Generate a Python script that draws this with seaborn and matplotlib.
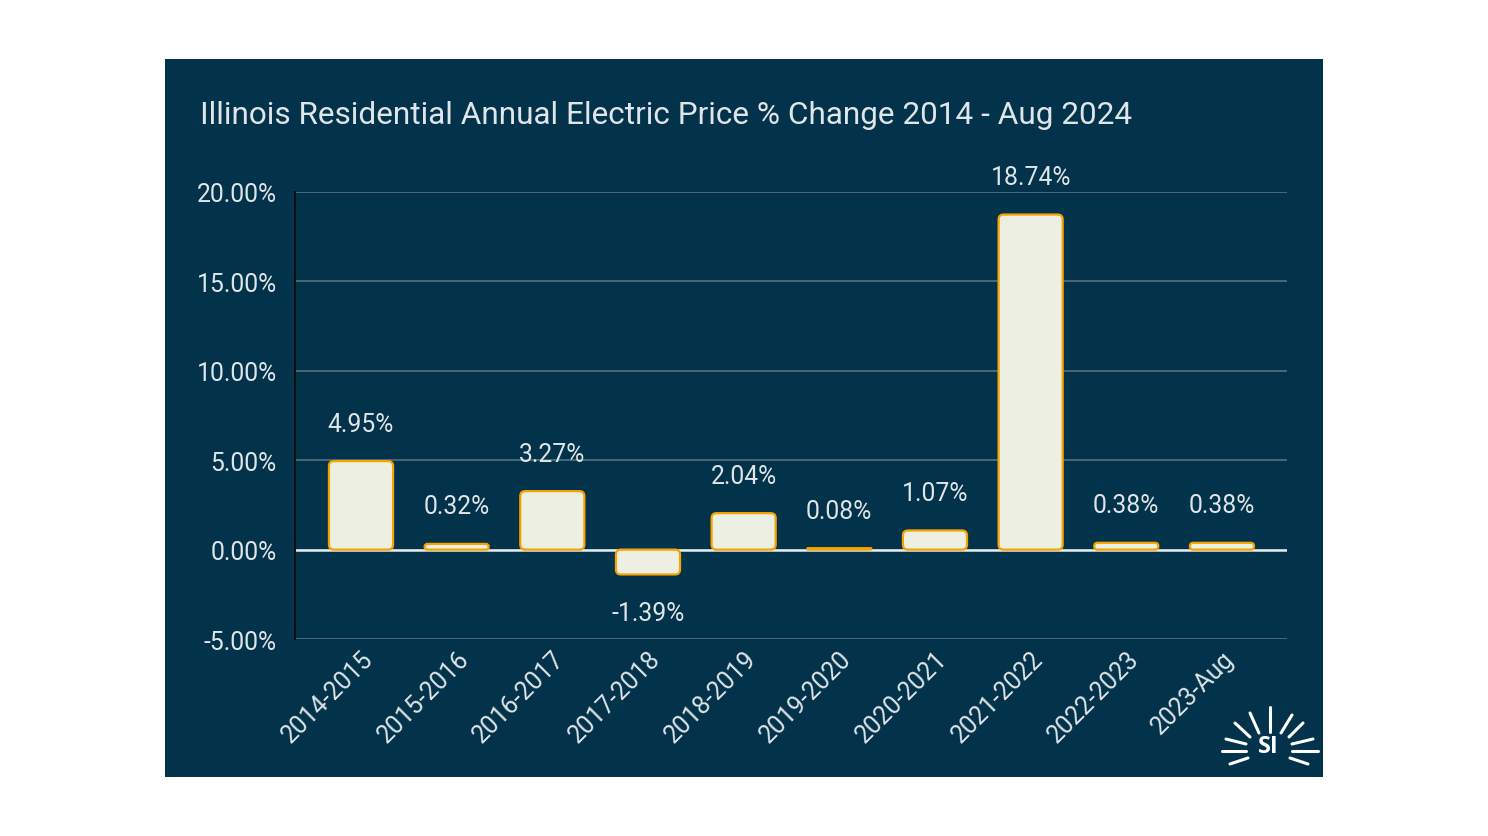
import matplotlib
matplotlib.use("Agg")
import matplotlib.pyplot as plt
import seaborn as sns
import pandas as pd
from matplotlib.patches import Rectangle, FancyBboxPatch
from matplotlib.lines import Line2D
from matplotlib.ticker import FuncFormatter, MultipleLocator

categories = ["2014-2015", "2015-2016", "2016-2017", "2017-2018", "2018-2019",
              "2019-2020", "2020-2021", "2021-2022", "2022-2023", "2023-Aug"]
pct_change = [4.95, 0.32, 3.27, -1.39, 2.04, 0.08, 1.07, 18.74, 0.38, 0.38]
title = "Illinois Residential Annual Electric Price % Change 2014 - Aug 2024"

PANEL = "#03334a"
BAR = "#eeefe3"
EDGE = "#f5a300"
TXT = "#dfe5e8"
GRID = "#4d6877"

sns.set_theme(style="white")
plt.rcParams["font.family"] = ["Roboto", "DejaVu Sans"]

W, H = 1488, 837
fig = plt.figure(figsize=(W / 100, H / 100), dpi=100)
fig.patch.set_facecolor("white")
fig.patches.append(Rectangle((165 / W, 1 - 778 / H), (1323 - 165) / W, (778 - 60) / H,
                             transform=fig.transFigure, facecolor=PANEL, edgecolor="none", zorder=-10))

ax = fig.add_axes([295 / W, 1 - 640 / H, (1287 - 295) / W, (640 - 193) / H])
ax.set_zorder(2)
ax.set_facecolor("none")

df = pd.DataFrame({"period": categories, "change": pct_change})
sns.barplot(data=df, x="period", y="change", ax=ax, color=BAR, width=0.67,
            saturation=1, edgecolor=EDGE, linewidth=1.6, zorder=3)

ax.set_xlim(-0.69, 9.68)
ax.set_ylim(-5, 20)

# replace rectangles by rounded ones
fig.canvas.draw()
bbox = ax.get_window_extent()
xpp = (ax.get_xlim()[1] - ax.get_xlim()[0]) / bbox.width
ypp = (ax.get_ylim()[1] - ax.get_ylim()[0]) / bbox.height
aspect = ypp / xpp
for p in list(ax.patches):
    x, y, w, h = p.get_x(), p.get_y(), p.get_width(), p.get_height()
    if h < 0:
        y, h = y + h, -h
    r = min(5 * xpp, (h / aspect) / 2.0, w / 2)
    fb = FancyBboxPatch((x, y), w, h, boxstyle=f"round,pad=0,rounding_size={r}",
                        mutation_aspect=aspect, facecolor=BAR, edgecolor=EDGE,
                        linewidth=1.6, zorder=3)
    p.remove()
    ax.add_patch(fb)

ax.yaxis.set_major_locator(MultipleLocator(5))
ax.yaxis.set_major_formatter(FuncFormatter(lambda v, _: f"{v:.2f}%"))
ax.grid(axis="y", color=GRID, linewidth=1.4, zorder=0)
ax.grid(axis="x", visible=False)
ax.axhline(0, color="#e6ecef", linewidth=1.8, zorder=2)

for s in ["top", "right", "bottom"]:
    ax.spines[s].set_visible(False)
ax.spines["left"].set_color("#0b0f12")
ax.spines["left"].set_linewidth(1.5)

ax.tick_params(axis="y", colors=TXT, labelsize=17.8, length=0, pad=13)
ax.tick_params(axis="x", colors=TXT, labelsize=17.8, length=0, pad=5)
for lab in ax.get_xticklabels():
    lab.set_rotation(45)
    lab.set_ha("right")
    lab.set_rotation_mode("anchor")
ax.set_xlabel("")
ax.set_ylabel("")

for i, v in enumerate(pct_change):
    off = 27 if v >= 0 else -28
    ax.annotate(f"{v:.2f}%", (i, v), xytext=(0, off), textcoords="offset points",
                ha="center", va="center", color=TXT, fontsize=17.8, zorder=5)

fig.text(200 / W, 1 - 116 / H, title, color=TXT, fontsize=22.7, ha="left", va="center")

# logo
cx, cy = 1268, 747
fig.text(cx / W, 1 - cy / H, "SI", color="white", fontsize=17, fontweight="bold",
         ha="center", va="center", family=["Open Sans", "DejaVu Sans"])
rays = [((1270, 733), (1270, 708)), ((1259, 734), (1250, 714)), ((1281, 734), (1292, 716)),
        ((1250, 738), (1235, 724)), ((1289, 738), (1303, 724)),
        ((1246, 745), (1226, 740)), ((1292, 745), (1313, 740)),
        ((1246, 752), (1222, 752)), ((1292, 752), (1318, 752)),
        ((1248, 759), (1230, 765)), ((1290, 759), (1308, 765))]
for (x0, y0), (x1, y1) in rays:
    fig.add_artist(Line2D([x0 / W, x1 / W], [1 - y0 / H, 1 - y1 / H], transform=fig.transFigure,
                          color="white", linewidth=2.2, solid_capstyle="round"))

fig.savefig("out.png", dpi=100, facecolor="white")
